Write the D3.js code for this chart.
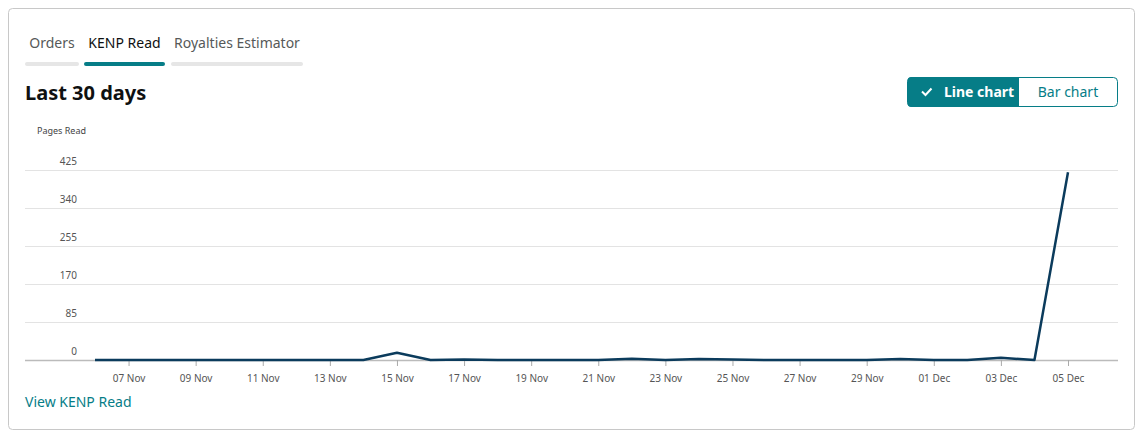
<!DOCTYPE html>
<html>
<head>
<meta charset="utf-8">
<script src="https://cdn.jsdelivr.net/npm/d3@7"></script>
<style>
  body { margin: 0; background: #fff; font-family: "Noto Sans", "Open Sans", sans-serif; }
</style>
</head>
<body>
<svg id="chart" width="1147" height="438"></svg>
<script>
// data: 06 Nov .. 05 Dec
const startDate = new Date(2023, 10, 6)
const pagesRead = [0, 0, 0, 0, 0, 0, 0, 0, 0, 16, 0, 1, 0, 0, 0, 0, 3, 0, 2, 1,
                   0, 0, 0, 0, 2, 0, 0, 5, 0, 420]
const yTicks = [0, 85, 170, 255, 340, 425]
const tabs = ['Orders', 'KENP Read', 'Royalties Estimator']

const teal = '#067d87'
const lineColor = '#0b3b5c'

const data = pagesRead.map((v, i) => ({date: d3.timeDay.offset(startDate, i), value: v}))

const svg = d3.select('#chart')

// card
svg.append('rect').attr('x', 8.5).attr('y', 8.5).attr('width', 1126).attr('height', 421)
    .attr('rx', 4).attr('fill', '#fff').attr('stroke', '#c8c8c8')

// tabs
const tabX = [[25, 79], [84, 165], [171, 303]]
tabs.forEach((t, i) => {
    const active = i === 1
    svg.append('rect').attr('x', tabX[i][0]).attr('y', 62).attr('width', tabX[i][1] - tabX[i][0])
        .attr('height', 4).attr('rx', 2).attr('fill', active ? teal : '#e6e6e6')
    svg.append('text').attr('x', (tabX[i][0] + tabX[i][1]) / 2).attr('y', 48)
        .attr('text-anchor', 'middle').style('font-size', '14px')
        .attr('fill', active ? '#0f1111' : '#565959').text(t)
})

svg.append('text').attr('x', 25).attr('y', 100).text('Last 30 days')
    .style('font-size', '20px').style('font-weight', 'bold').attr('fill', '#0f1111')

// toggle button
svg.append('rect').attr('x', 907.5).attr('y', 77.5).attr('width', 210).attr('height', 29)
    .attr('rx', 4).attr('fill', '#fff').attr('stroke', teal)
svg.append('path').attr('d', 'M1019,77 H911.5 a4,4 0 0 0 -4,4 V103 a4,4 0 0 0 4,4 H1019 Z').attr('fill', teal)
svg.append('path').attr('d', 'M922,91.5 l3.5,3.5 l6,-6.5').attr('fill', 'none')
    .attr('stroke', '#fff').attr('stroke-width', 2)
svg.append('text').attr('x', 944).attr('y', 97).text('Line chart').attr('fill', '#fff')
    .style('font-size', '14px').style('font-weight', 'bold')
svg.append('text').attr('x', 1068).attr('y', 97).attr('text-anchor', 'middle').text('Bar chart')
    .attr('fill', teal).style('font-size', '14px')

svg.append('text').attr('x', 37).attr('y', 134).text('Pages Read')
    .style('font-size', '9px').attr('fill', '#444')

// scales
const x = d3.scaleTime().domain(d3.extent(data, d => d.date)).range([95, 1068])
const y = d3.scaleLinear().domain([0, 425]).range([360, 170])

// grid
const grid = svg.append('g')
grid.selectAll('line').data(yTicks).join('line')
    .attr('x1', 25).attr('x2', 1118).attr('y1', d => y(d) + 0.5).attr('y2', d => y(d) + 0.5)
    .attr('stroke', d => d === 0 ? '#bbb' : '#e3e3e3').attr('stroke-width', d => d === 0 ? 1.5 : 1)
grid.selectAll('text').data(yTicks).join('text')
    .attr('x', 77).attr('y', d => y(d) - 5).attr('text-anchor', 'end')
    .style('font-size', '10px').attr('fill', '#555').text(d => d)

// x axis
const xAxis = d3.axisBottom(x)
    .tickValues(data.filter((d, i) => i % 2 === 1).map(d => d.date))
    .tickFormat(d3.timeFormat('%d %b')).tickSize(6).tickSizeOuter(0)
const gx = svg.append('g').attr('transform', 'translate(0,360)').call(xAxis)
gx.select('.domain').remove()
gx.selectAll('.tick line').attr('stroke', '#aaa')
gx.selectAll('.tick text').attr('dy', '1.3em').style('font-size', '10px')
    .style('font-family', '"Noto Sans", sans-serif').attr('fill', '#555')

// line
svg.append('path').datum(data)
    .attr('d', d3.line().x(d => x(d.date)).y(d => y(d.value)))
    .attr('fill', 'none').attr('stroke', lineColor).attr('stroke-width', 2.5)
    .attr('stroke-linejoin', 'round')

svg.append('text').attr('x', 25).attr('y', 407).text('View KENP Read')
    .attr('fill', teal).style('font-size', '14px')
</script>
</body>
</html>
